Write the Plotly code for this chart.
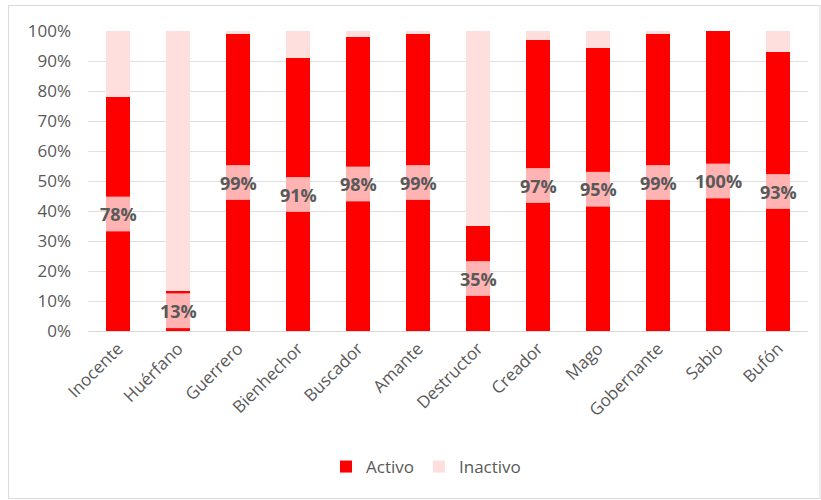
import plotly.graph_objects as go

categories = ["Inocente", "Huérfano", "Guerrero", "Bienhechor", "Buscador", "Amante",
              "Destructor", "Creador", "Mago", "Gobernante", "Sabio", "Bufón"]
activo = [78, 13.5, 99, 91, 98, 99, 35, 97, 94.5, 99, 100, 93]
labels = ["78%", "13%", "99%", "91%", "98%", "99%", "35%", "97%", "95%", "99%", "100%", "93%"]
inactivo = [100 - a for a in activo]
ytick_vals = [0, 10, 20, 30, 40, 50, 60, 70, 80, 90, 100]

fig = go.Figure()
fig.add_trace(go.Bar(x=categories, y=activo, name="Activo", marker_color="#ff0000",
                     marker_line_width=0, hoverinfo="skip"))
fig.add_trace(go.Bar(x=categories, y=inactivo, name="Inactivo", marker_color="#ffdede",
                     marker_line_width=0, hoverinfo="skip"))

half_w = 0.2
box_h = 5.8
for i, (a, lab) in enumerate(zip(activo, labels)):
    c = a / 2
    fig.add_shape(type="rect", xref="x", yref="y", x0=i - half_w, x1=i + half_w,
                  y0=c - box_h, y1=c + box_h, fillcolor="rgba(255,255,255,0.7)",
                  line_width=0, layer="above")
    fig.add_annotation(x=categories[i], y=c, text="<b>" + lab + "</b>", showarrow=False,
                       font=dict(family="Open Sans", size=18, color="#595959"))

# outer chart frame
fig.add_shape(type="rect", xref="paper", yref="paper",
              x0=(8.5 - 88) / 720, x1=(820 - 88) / 720,
              y0=(331 - 498.5) / 300, y1=(331 - 5.5) / 300,
              line=dict(color="#d9d9d9", width=1), fillcolor="rgba(0,0,0,0)", layer="below")

fig.update_layout(
    barmode="stack",
    bargap=0.6,
    width=821, height=500,
    margin=dict(l=88, r=13, t=31, b=169),
    paper_bgcolor="white", plot_bgcolor="white",
    font=dict(family="Open Sans", color="#595959", size=16),
    showlegend=True,
    legend=dict(orientation="h", x=(426 - 88) / 720, xanchor="center", y=(331 - 467) / 300,
                yanchor="middle", font=dict(size=17, color="#595959"), traceorder="normal",
                itemwidth=30),
    xaxis=dict(tickangle=-45, showgrid=False, showline=True, linecolor="#d9d9d9",
               tickfont=dict(size=17, color="#595959"), ticks=""),
    yaxis=dict(range=[0, 100], tickvals=ytick_vals,
               ticktext=[f"{v}%" for v in ytick_vals], showgrid=True, gridcolor="#e0e0e0",
               zeroline=False, tickfont=dict(size=17, color="#595959"), ticks="",
               ticklabelstandoff=16),
)

fig.write_html("out.html")
